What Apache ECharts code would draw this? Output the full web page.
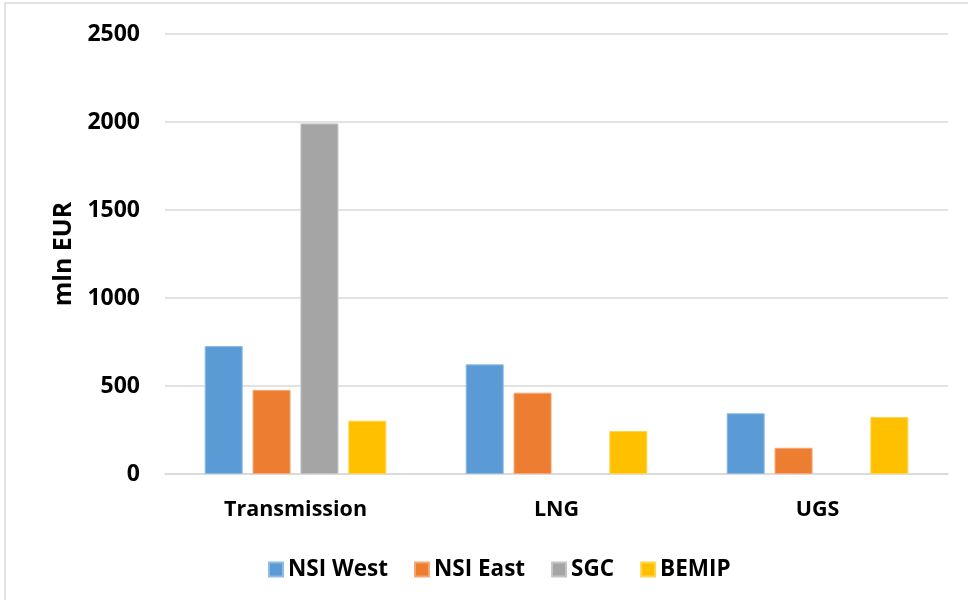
<!DOCTYPE html>
<html>
<head>
<meta charset="utf-8">
<script src="https://cdn.jsdelivr.net/npm/echarts@6/dist/echarts.min.js"></script>
<style>
  html, body { margin: 0; padding: 0; background: #fff; }
  #chart { width: 968px; height: 600px; }
</style>
</head>
<body>
<div id="chart"></div>
<script>
var chart = echarts.init(document.getElementById('chart'));

var categories = ['Transmission', 'LNG', 'UGS'];
var seriesNames = ['NSI West', 'NSI East', 'SGC', 'BEMIP'];
var nsiWest = [727, 623, 345];
var nsiEast = [478, 462, 149];
var sgc = [1992, null, null];
var bemip = [303, 244, 324];
var colors = ['#5b9bd5', '#ed7d31', '#a5a5a5', '#ffc000'];
var borders = ['#8fbbe5', '#f4a774', '#c4c4c4', '#ffd54d'];

var font = 'Open Sans';
var values = [nsiWest, nsiEast, sgc, bemip];

var series = seriesNames.map(function (name, i) {
    return {
        name: name,
        type: 'bar',
        data: values[i],
        barWidth: 38,
        barGap: '26%',
        itemStyle: { color: colors[i], borderColor: borders[i], borderWidth: 1 }
    };
});

var option = {
    animation: false,
    color: colors,
    graphic: [{
        type: 'rect',
        shape: { x: 5, y: 3, width: 980, height: 620 },
        style: { fill: null, stroke: '#d9d9d9', lineWidth: 1.5 },
        silent: true
    }],
    legend: {
        data: seriesNames,
        left: 263,
        top: 553,
        itemWidth: 14,
        itemHeight: 14,
        itemGap: 26,
        icon: 'rect',
        textStyle: { fontFamily: font, fontWeight: 'bold', fontSize: 22.5, color: '#000' }
    },
    grid: { left: 165, right: 20, top: 34, bottom: 126 },
    xAxis: {
        type: 'category',
        data: categories,
        axisLine: { lineStyle: { color: '#d9d9d9', width: 1.5 } },
        axisTick: { show: false },
        axisLabel: { margin: 25, fontFamily: font, fontWeight: 'bold', fontSize: 21.5, color: '#000' }
    },
    yAxis: {
        type: 'value',
        min: 0,
        max: 2500,
        interval: 500,
        name: 'mln EUR',
        nameLocation: 'middle',
        nameGap: 86,
        nameTextStyle: { fontFamily: font, fontWeight: 'bold', fontSize: 25, color: '#000' },
        axisLine: { show: false },
        axisTick: { show: false },
        axisLabel: {
            margin: 25,
            fontFamily: font,
            fontWeight: 'bold',
            fontSize: 23,
            color: '#000',
            formatter: function (v) { return String(v); }
        },
        splitLine: { lineStyle: { color: '#d9d9d9', width: 1.5 } }
    },
    series: series
};

chart.setOption(option);
</script>
</body>
</html>
